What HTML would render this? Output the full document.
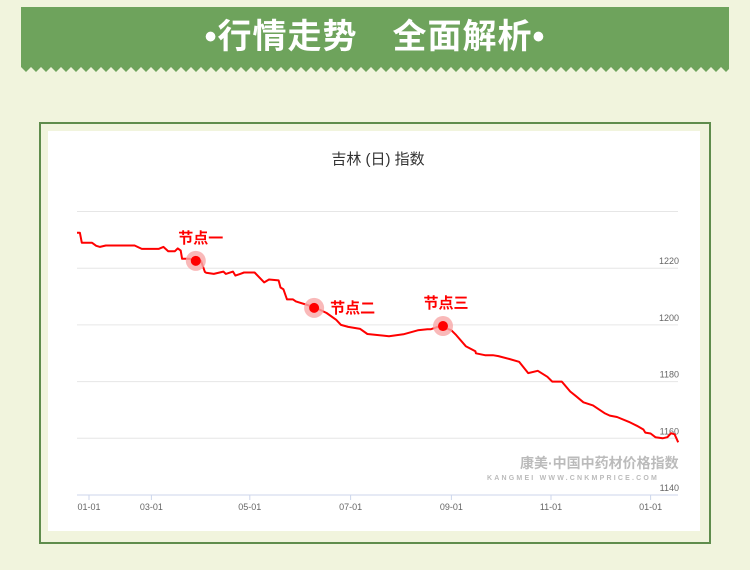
<!DOCTYPE html>
<html><head><meta charset="utf-8"><style>
body{margin:0;width:750px;height:570px;background:#f1f4dd;overflow:hidden;font-family:"Liberation Sans","Noto Sans CJK SC",sans-serif;position:relative}
#banner{position:absolute;left:21px;top:7px;width:708px;height:60px;background:#6ea35c;color:#fff;font-size:34px;font-weight:bold;text-align:center;line-height:60px;letter-spacing:1px}
#zig{position:absolute;left:21px;top:67px}
#panel{position:absolute;left:39px;top:122px;width:668px;height:418px;border:2px solid #5f8c4c;background:#f1f4dd}
#white{position:absolute;left:48px;top:131px;width:652px;height:400px;background:#fff}
</style></head><body>
<div id="banner">•行情走势　全面解析•</div>
<svg id="zig" width="708" height="6"><defs><pattern id="z" width="10" height="6" patternUnits="userSpaceOnUse"><path d="M0,0 L10,0 L5,5 Z" fill="#6ea35c"/></pattern></defs><rect width="708" height="6" fill="url(#z)"/></svg>
<div id="panel"></div>
<div id="white"></div>
<svg id="chart" width="750" height="570" style="position:absolute;left:0;top:0">
<text x="378" y="164" text-anchor="middle" font-size="15" fill="#333">吉林 (日) 指数</text>
<g id="grid"></g><g id="xaxis"></g>
<g fill="#bbb" font-weight="bold">
<text x="520" y="468" font-size="14">康美·中国中药材价格指数</text>
<text x="487" y="480" font-size="7" letter-spacing="2.2">KANGMEI WWW.CNKMPRICE.COM</text>
</g>
<path id="line" fill="none" stroke="#f00" stroke-width="2" stroke-linejoin="round"/>
<g id="marks"></g>
</svg>
<script>
const yTicks=[1140,1160,1180,1200,1220,1240];
const xTickLabels=["01-01","03-01","05-01","07-01","09-01","11-01","01-01"];
const xTickIdx=[5,31,72,114,156,197.5,239];
const idx=[0,1.2,2,6.2,8,9.6,12,24,27,34,36,38,40.8,42,43.2,43.8,47,49,51,51.7,53.3,53.8,57,61,62,65,66,68,69.6,74,78,80,84,84.8,86,87.5,90,91.2,98,98.8,104,108,110,113,118,121,130,136,142,146,147.5,151.3,156,158,162,166,166.2,170,173.3,175.6,180,184.2,188,192,196,198,202,205.5,208,211,215,220,221,222,225,230,233.3,236,236.8,239,241,244,246,247.5,249,250.5];
const vals=[1232.5,1232.5,1229,1229,1227.9,1227.5,1228,1228,1226.8,1226.8,1227.5,1226,1226,1227,1226.2,1223.3,1223.3,1222.6,1222,1222.5,1218.7,1218.4,1218,1218.8,1218,1218.8,1217.4,1218,1218.5,1218.5,1215,1216,1215.7,1213.2,1212.6,1209,1209,1208.3,1206.5,1206.3,1204.2,1201.8,1200,1199.3,1198.6,1196.8,1196,1196.7,1198.1,1198.5,1198.5,1199.6,1198.1,1196.4,1192.5,1190.7,1190,1189.3,1189.3,1189,1188,1187,1183,1183.8,1181.7,1180,1180,1176.5,1174.8,1172.7,1171.6,1168.8,1168.4,1168,1167.5,1165.8,1164.4,1163.1,1162,1161.7,1160.4,1160,1160.4,1161.8,1161.4,1158.6,1156.5,1155.2];
const nodeIdx=[49.5,98.8,152.5];
const nodeVals=[1222.6,1206,1199.6];
const nodeLabels=["节点一","节点二","节点三"];
const X0=77,PX=2.4,Y0=495,PY=56.7/20;
const xs=i=>X0+i*PX, ys=v=>Y0-(v-1140)*PY;
const NS="http://www.w3.org/2000/svg";
function mk(t,a,p){const e=document.createElementNS(NS,t);for(const k in a)e.setAttribute(k,a[k]);p.appendChild(e);return e;}
const grid=document.getElementById('grid');
yTicks.forEach((v,i)=>{
 const l=mk('line',{x1:77,x2:678,y1:ys(v),y2:ys(v),stroke:i==0?'#ccd6eb':'#e6e6e6','stroke-width':1},grid);
 
 
 if(v<1240){const t=mk('text',{x:679,y:ys(v)-4,'text-anchor':'end','font-size':9,fill:'#666'},grid);t.textContent=v;
 
 }
});
const xa=document.getElementById('xaxis');
xTickIdx.forEach((ix,i)=>{
 const x=xs(ix);
 mk('line',{x1:x,x2:x,y1:495,y2:500,stroke:'#ccd6eb'},xa);
 const t=mk('text',{x:x,y:510,'text-anchor':'middle','font-size':9,fill:'#666'},xa);t.textContent=xTickLabels[i];
 
 
});
document.getElementById('line').setAttribute('d',idx.map((ix,i)=>(i?'L':'M')+xs(ix).toFixed(1)+','+ys(vals[i]).toFixed(1)).join(''));
const mg=document.getElementById('marks');
nodeIdx.forEach((ix,i)=>{
 const x=xs(ix),y=ys(nodeVals[i]);
 const h=mk('circle',{cx:x,cy:y,r:10,fill:'#f7a8a8',opacity:0.8},mg);
 
 
 const c=mk('circle',{cx:x,cy:y,r:5,fill:'#f00'},mg);
 
 
 const pos=i==1?{x:x+16,y:y+5,a:'start'}:{x:x+(i==0?5:3),y:y-18,a:'middle'};
 const t=mk('text',{x:pos.x,y:pos.y,'text-anchor':pos.a,'font-size':15,'font-weight':'bold',fill:'#f00'},mg);t.textContent=nodeLabels[i];
 
 
});
</script>
</body></html>
